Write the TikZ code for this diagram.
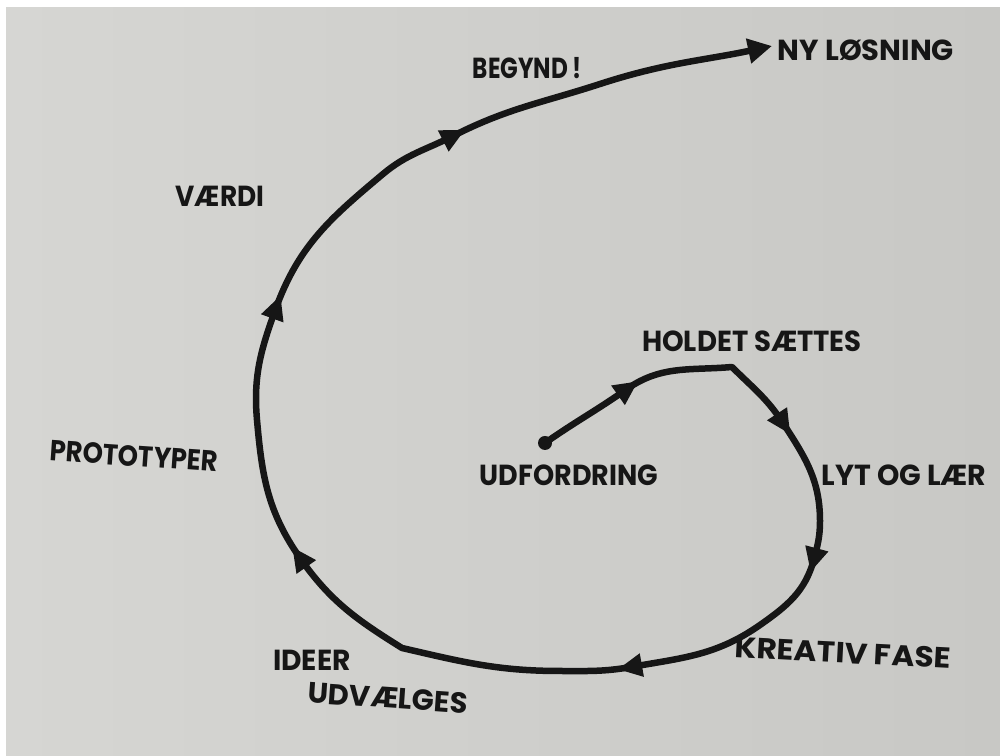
\documentclass[tikz,border=0pt]{standalone}
\usepackage{fontspec}
\usepackage{graphicx}
\setmainfont{Poppins}
\usetikzlibrary{arrows.meta}
\definecolor{ink}{RGB}{22,22,22}
\definecolor{paperL}{RGB}{214,214,211}
\definecolor{paperR}{RGB}{200,200,197}
\tikzset{
  inkline/.style={draw=ink, line width=1.3mm, line cap=round, line join=round},
  lbl/.style={font=\bfseries\fontsize{16.5}{18}\selectfont, text=ink, inner sep=0pt},
  ahead/.pic={\fill[fill=ink] (13,0) -- (-11,12) -- (-11,-12) -- cycle;}
}
\newcommand{\sx}[2]{\scalebox{#1}[1]{#2}}
\begin{document}
\begin{tikzpicture}[x=0.2mm,y=0.2mm]
\useasboundingbox (0,0) rectangle (1000,756);
\fill[white] (0,0) rectangle (1000,756);
\shade[left color=paperL, right color=paperR] (6,0) rectangle (1000,748);

% path points (y measured upward)
\coordinate (p0) at (545,313);
\coordinate (p1) at (627,367);
\coordinate (p2) at (732,389);
\coordinate (p3) at (783,333);
\coordinate (p4) at (820,235);
\coordinate (p5) at (814,197);
\coordinate (p6) at (760,131);
\coordinate (p7) at (631,89);
\coordinate (p8) at (560,85);
\coordinate (p9) at (402,108);
\coordinate (p10) at (300,198);
\coordinate (p11) at (257,336);
\coordinate (p12) at (276,448);
\coordinate (p13) at (383,582);
\coordinate (p14) at (453,620);
\coordinate (p15) at (600,672);
\coordinate (p16) at (772,710);

\draw[inkline, -{Triangle[length=4.8mm,width=4.8mm]}]
  (p0) to[out=35,in=215] (p1) to[out=35,in=185] (p2)
  to[out=-45,in=123] (p3) to[out=-57,in=90] (p4)
  to[out=-90,in=75] (p5) to[out=-105,in=35] (p6)
  to[out=-145,in=10] (p7) to[out=190,in=0] (p8)
  to[out=180,in=-13] (p9) to[out=148,in=-55] (p10)
  to[out=125,in=-85] (p11) to[out=95,in=-110] (p12)
  to[out=70,in=-140] (p13) to[out=40,in=-153] (p14)
  to[out=27,in=-162] (p15) to[out=18,in=-168] (p16);
\fill[fill=ink] (p0) circle (7);

\pic[rotate=35] at (p1) {ahead};
\pic[rotate=-57] at (p3) {ahead};
\pic[rotate=-105] at (p5) {ahead};
\pic[rotate=190] at (p7) {ahead};
\pic[rotate=125] at (p10) {ahead};
\pic[rotate=70] at (p12) {ahead};
\pic[rotate=27] at (p14) {ahead};

\node[lbl] (nyl) at (866,706) {\sx{1.0}{NY LØSNING}};
\node[lbl] (beg) at (527,688) {\sx{0.8}{BEGYND\,!}};
\node[lbl] (vae) at (220,560) {\sx{0.91}{VÆRDI}};
\node[lbl, rotate=-4] (pro) at (134,300) {\sx{0.89}{PROTOTYPER}};
\node[lbl] (hol) at (752,415) {\sx{0.95}{HOLDET SÆTTES}};
\node[lbl] (udf) at (569,281) {\sx{0.93}{UDFORDRING}};
\node[lbl] (lyt) at (904,281) {\sx{0.98}{LYT OG LÆR}};
\node[lbl, rotate=-3] (kre) at (843,103) {\sx{1.08}{KREATIV FASE}};
\node[lbl] (ide) at (312,96) {\sx{0.97}{IDEER}};
\node[lbl, rotate=-4] (udv) at (388,58) {\sx{1.0}{UDVÆLGES}};
\end{tikzpicture}
\end{document}
